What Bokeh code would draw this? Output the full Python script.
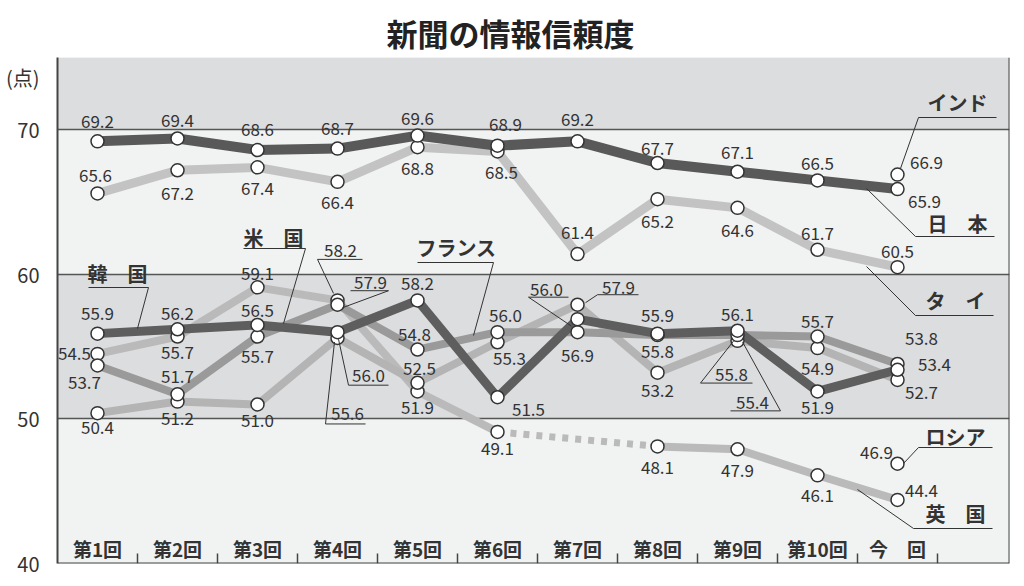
import math
from bokeh.plotting import figure
from bokeh.models import ColumnDataSource, BoxAnnotation, Span, FixedTicker
from bokeh.core.properties import value
from bokeh.embed import file_html
from bokeh.resources import INLINE

# ---------------- data ----------------
rounds = ["第1回", "第2回", "第3回", "第4回", "第5回", "第6回",
          "第7回", "第8回", "第9回", "第10回", "今　回"]
japan  = [69.2, 69.4, 68.6, 68.7, 69.6, 68.9, 69.2, 67.7, 67.1, 66.5, 65.9]
thai   = [65.6, 67.2, 67.4, 66.4, 68.8, 68.5, 61.4, 65.2, 64.6, 61.7, 60.5]
korea  = [55.9, 56.2, 56.5, 56.0, 58.2, 51.5, 56.9, 55.9, 56.1, 51.9, 53.4]
usa    = [53.7, 51.7, 55.7, 57.9, 54.8, 56.0, 56.0, 55.8, 55.8, 55.7, 53.8]
france = [50.4, 51.2, 51.0, 55.6, 52.5, 55.3, 57.9, 53.2, 55.4, 54.9, 52.7]
uk     = [54.5, 55.7, 59.1, 58.2, 51.9, 49.1, None, 48.1, 47.9, 46.1, 44.4]
india_now = 66.9
russia_now = 46.9
y_ticks = [40, 50, 60, 70]
y_top = 75
unit_pos = 73.6
title_text = "新聞の情報信頼度"
unit_text = "(点)"

# ---------------- geometry / style ----------------
W, H = 1024, 586
LEFT, RIGHT, TOP, BOTTOM = 57, 15, 57, 23
PXX = 80.0
X_MAX = (W - LEFT - RIGHT) / PXX
PXY = (H - TOP - BOTTOM) / (y_top - y_ticks[0])

def px2x(px):
    return (px - LEFT) / PXX

def py2y(py):
    return y_top - (py - TOP) / PXY

FONT = value("Noto Sans CJK JP")
xs = [i + 0.5 for i in range(len(rounds))]
last = len(rounds) - 1

p = figure(width=W, height=H, x_range=(0, X_MAX), y_range=(y_ticks[0], y_top),
           output_backend="svg", toolbar_location=None,
           min_border_left=LEFT, min_border_right=RIGHT,
           min_border_top=TOP, min_border_bottom=BOTTOM,
           background_fill_color="#f1f2f2", border_fill_color="white")
p.outline_line_color = None

# title
p.title.text = title_text
p.title.align = "left"
p.title.offset = 329
p.title.standoff = 5
p.title.text_font = "Noto Sans CJK JP"
p.title.text_font_size = "31px"
p.title.text_font_style = "bold"
p.title.text_color = "#222222"

# bands
band_cols = ["#f1f2f2", "#dcdddf", "#f1f2f2", "#dcdddf"]
edges = y_ticks + [y_top]
for k, c in enumerate(band_cols):
    p.add_layout(BoxAnnotation(bottom=edges[k], top=edges[k + 1], fill_color=c,
                               fill_alpha=1, line_color=None, level="image"))

# grid
p.xgrid.visible = False
p.ygrid.ticker = FixedTicker(ticks=y_ticks[1:])
p.ygrid.grid_line_color = "#555555"
p.ygrid.grid_line_width = 1.5

# y axis (plus the unit label at the top)
p.yaxis.ticker = FixedTicker(ticks=y_ticks + [unit_pos])
p.yaxis.major_label_overrides = {unit_pos: unit_text}
p.yaxis.major_tick_line_color = None
p.yaxis.minor_tick_line_color = None
p.yaxis.axis_line_color = "#444444"
p.yaxis.axis_line_width = 2
p.yaxis.major_label_text_font = "Noto Sans CJK JP"
p.yaxis.major_label_text_font_size = "20px"
p.yaxis.major_label_text_color = "#333333"
p.yaxis.major_label_standoff = 12

# bottom line + boundary ticks instead of an x axis
p.xaxis.visible = False
p.add_layout(Span(location=y_ticks[0], dimension="width", line_color="#444444", line_width=2))
p.add_layout(Span(location=X_MAX, dimension="height", line_color="#444444", line_width=2))
bounds = [i + 1 for i in range(len(rounds))]
p.segment(bounds, [y_ticks[0]] * len(bounds), bounds,
          [y_ticks[0] + 10 / PXY] * len(bounds), line_color="#444444", line_width=1.5)

# ---------------- lines ----------------
def clean(vals):
    return [float("nan") if v is None else v for v in vals]

series = [
    (thai,   "#c3c3c3", 9),
    (uk,     "#bababa", 8),
    (france, "#b4b4b4", 8),
    (usa,    "#9a9a9a", 8),
    (korea,  "#5e5e5e", 9),
    (japan,  "#595959", 10),
]
for vals, col, lw in series:
    p.line(xs, clean(vals), line_color=col, line_width=lw, line_join="round")

# dotted gap segment for uk
for i, v in enumerate(uk):
    if v is None:
        a = i - 1
        b = i + 1
        while uk[b] is None:
            b += 1
        p.line([xs[a], xs[b]], [uk[a], uk[b]], line_color="#bababa", line_width=7,
               line_dash="6 7")

# circles
cx, cy = [], []
for vals, _, _ in series:
    for i, v in enumerate(vals):
        if v is not None:
            cx.append(xs[i]); cy.append(v)
cx += [xs[last], xs[last]]
cy += [india_now, russia_now]
p.scatter(cx, cy, marker="circle", size=13, fill_color="white",
          line_color="#333333", line_width=1.5)

# ---------------- value labels ----------------
japan_off  = [(0, -20), (0, -18), (0, -21), (0, -20), (0, -17), (8, -21), (0, -22), (0, -15), (0, -19), (0, -17), (27, 12)]
thai_off   = [(-2, -18), (0, 23), (0, 21), (0, 21), (0, 21), (4, 21), (0, -22), (0, 22), (0, 23), (0, -16), (0, -16)]
korea_off  = [(0, -20), (0, -16), (0, -14), None, (0, -17), (31, 12), (0, 36), (0, -18), (0, -16), (0, 16), (37, -5)]
usa_off    = [(-13, 17), (0, -18), (0, 20), None, (-3, -15), (8, -17), None, (0, 16), None, (0, -15), (24, -25)]
france_off = [(0, 14), (0, 17), (0, 16), None, (2, -14), (12, 16), None, (0, 18), None, (0, 20), (24, 13)]
uk_off     = [(-23, 0), (0, 16), (0, -14), None, (0, 16), (0, 17), None, (0, 21), (0, 21), (0, 20), (24, -9)]

lx, ly, lt, lxo, lyo = [], [], [], [], []
for vals, offs in [(japan, japan_off), (thai, thai_off), (korea, korea_off),
                   (usa, usa_off), (france, france_off), (uk, uk_off)]:
    for i, v in enumerate(vals):
        if v is None or offs[i] is None:
            continue
        lx.append(xs[i]); ly.append(v); lt.append(f"{v:.1f}")
        lxo.append(offs[i][0]); lyo.append(offs[i][1])
for v, o in [(india_now, (29, -12)), (russia_now, (-21, -11))]:
    lx.append(xs[last]); ly.append(v); lt.append(f"{v:.1f}")
    lxo.append(o[0]); lyo.append(o[1])

# underlined labels with leaders: (values, index, label offset, (u0, u1, udy), point end, which end)
under = [
    (uk,     3, (3, -50),  (-20, 25, -41),  (-4, -7), 0),
    (usa,    3, (33, -22), (13, 51, -14),   (5, 3),   1),
    (korea,  3, (31, 43),  (11, 51, 53),    (1, 7),   0),
    (france, 3, (10, 76),  (-12, 28, 86),   (-3, 4),  0),
    (france, 6, (41, -17), (20, 61, -10),   (8, -2),  0),
    (usa,    6, (-31, -43), (-49, -9, -35), (-6, -6), 0),
    (usa,    8, (-6, 39),  (-37, 15, 48),   (-4, 6),  0),
    (france, 8, (15, 62),  (-7, 43, 70),    (5, 1),   1),
]
seg_x0, seg_y0, seg_x1, seg_y1 = [], [], [], []
for vals, i, lo, ul, pe, end in under:
    v = vals[i]
    lx.append(xs[i]); ly.append(v); lt.append(f"{v:.1f}")
    lxo.append(lo[0]); lyo.append(lo[1])
    u0, u1, udy = ul
    seg_x0.append(xs[i] + u0 / PXX); seg_x1.append(xs[i] + u1 / PXX)
    seg_y0.append(v - udy / PXY); seg_y1.append(v - udy / PXY)
    ue = u0 if end == 0 else u1
    seg_x0.append(xs[i] + ue / PXX); seg_y0.append(v - udy / PXY)
    seg_x1.append(xs[i] + pe[0] / PXX); seg_y1.append(v - pe[1] / PXY)

src = ColumnDataSource(dict(x=lx, y=ly, text=lt, xo=lxo, yo=lyo))
p.text(x="x", y="y", text="text", x_offset="xo", y_offset="yo", source=src,
       text_font=FONT, text_font_size=value("17px"), text_color="#333333",
       text_align="center", text_baseline="middle")

# series name labels with leader lines (pixel anchors from layout)
names = [
    ("インド",   (957, 102), [(900, 168), (918, 117), (996, 117)]),
    ("日　本",   (957, 223), [(866, 188), (915, 236), (994, 236)]),
    ("タ　イ",   (955, 300), [(866, 266), (915, 315), (993, 315)]),
    ("ロシア",   (955, 436), [(903, 463), (918, 447), (992, 447)]),
    ("英　国",   (955, 513), [(857, 489), (913, 528), (992, 528)]),
    ("韓　国",   (117, 273), [(137, 328), (148, 287), (88, 287)]),
    ("米　国",   (273, 237), [(283, 323), (305, 248), (243, 248)]),
    ("フランス", (456, 247), [(473, 335), (493, 262), (417, 262)]),
]
nx, ny, nt = [], [], []
for t, (px, py), pts in names:
    nx.append(px2x(px)); ny.append(py2y(py)); nt.append(t)
    for a, b in zip(pts[:-1], pts[1:]):
        seg_x0.append(px2x(a[0])); seg_y0.append(py2y(a[1]))
        seg_x1.append(px2x(b[0])); seg_y1.append(py2y(b[1]))

p.segment(seg_x0, seg_y0, seg_x1, seg_y1, line_color="#333333", line_width=1)
p.text(nx, ny, text=nt, text_font=FONT, text_font_size=value("20px"),
       text_font_style="bold", text_color="#333333",
       text_align="center", text_baseline="middle")

# category labels inside the frame bottom
p.text(xs, [y_ticks[0]] * len(rounds), text=rounds, y_offset=-15,
       text_font=FONT, text_font_size=value("19px"), text_font_style="bold",
       text_color="#333333", text_align="center", text_baseline="middle")

open("out.html", "w").write(file_html(p, INLINE))
